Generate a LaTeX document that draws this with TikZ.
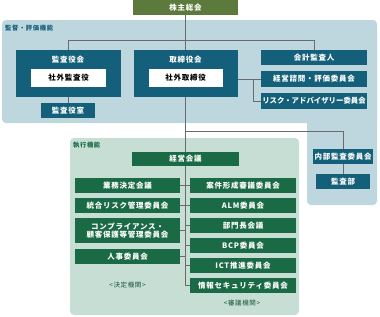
\documentclass[tikz,border=0pt]{standalone}
\usepackage{fontspec}
\setmainfont{Noto Sans CJK JP}
\newfontfamily\spacedfont{Noto Sans CJK JP}[LetterSpace=10]
\usetikzlibrary{positioning,calc}
\definecolor{BoardTeal}{HTML}{14607A}
\definecolor{ExecGreen}{HTML}{1B6A46}
\definecolor{OwnerOlive}{HTML}{5B7A3B}
\definecolor{SuperBlue}{HTML}{BED6DD}
\definecolor{ExecPale}{HTML}{C7DED5}
\definecolor{LineGray}{HTML}{6B6B6B}
\tikzset{
  boxtext/.style={text=white, font=\spacedfont\fontsize{7.5}{9}\selectfont\bfseries, align=center, inner sep=1pt},
  olivebox/.style={boxtext, fill=OwnerOlive, minimum height=15pt},
  tealbox/.style={boxtext, fill=BoardTeal, minimum height=15pt, minimum width=106pt},
  bigteal/.style={fill=BoardTeal, minimum height=47pt, minimum width=105pt, inner sep=0pt},
  whitebox/.style={fill=white, text=black, font=\spacedfont\fontsize{7.5}{9}\selectfont\bfseries, minimum height=18pt, minimum width=75pt, inner sep=1pt},
  leftbox/.style={boxtext, fill=ExecGreen, minimum height=15pt, minimum width=105pt},
  rightbox/.style={boxtext, fill=ExecGreen, minimum height=15pt, minimum width=106pt},
  paneltext/.style={font=\spacedfont\fontsize{6.3}{7}\selectfont\bfseries, inner sep=0pt},
  grouptext/.style={font=\spacedfont\fontsize{6.5}{7}\selectfont, text=ExecGreen!80!black, inner sep=0pt},
  link/.style={draw=LineGray, line width=0.8pt}
}
\begin{document}
\begin{tikzpicture}[x=1pt,y=-1pt]
\useasboundingbox (0,0) rectangle (380,316);
\fill[SuperBlue, rounded corners=4pt] (2,20) rectangle (377,123);
\fill[SuperBlue, rounded corners=4pt] (307,30) rectangle (377,205);
\fill[ExecPale, rounded corners=4pt] (70,138) rectangle (299,315);
\node[paneltext, text=BoardTeal, anchor=west] (supervise) at (5,28) {監督・評価機能};
\node[paneltext, text=ExecGreen, anchor=west] (execute) at (73,145) {執行機能};

\node[olivebox, minimum width=105pt] (meeting) at (185.5,7.5) {株主総会};

\node[bigteal] (auditboard) at (68,73.5) {};
\node[boxtext] (audittitle) at ($(auditboard.north)+(0,10)$) {監査役会};
\node[whitebox] (outsideaud) at (68.5,78) {社外監査役};
\node[tealbox, minimum width=54pt] (auditoffice) at (68,110.5) {監査役室};

\node[bigteal, minimum width=104pt] (board) at (185.5,73.5) {};
\node[boxtext] (boardtitle) at ($(board.north)+(0,10)$) {取締役会};
\node[whitebox, minimum width=74pt] (outsidedir) at (185.5,78) {社外取締役};

\node[tealbox] (accountant) at (314,57.5) {会計監査人};
\node[tealbox, minimum height=16pt] (advisory) at (314,79) {経営諮問・評価委員会};
\node[tealbox, minimum height=16pt, font=\fontsize{7.4}{9}\selectfont\bfseries] (riskadv) at (314,101) {リスク・アドバイザリー委員会};

\node[tealbox, minimum width=60pt] (internal) at (343,156.5) {内部監査委員会};
\node[tealbox, minimum width=54pt] (auditdept) at (343,181.5) {監査部};

\node[rightbox, minimum width=107pt, minimum height=14pt] (mgmt) at (185.5,159) {経営会議};

\node[leftbox] (business) at (127.5,185.5) {業務決定会議};
\node[leftbox] (risk) at (127.5,205.5) {統合リスク管理委員会};
\node[leftbox, minimum height=25pt, font=\spacedfont\fontsize{7.5}{8.5}\selectfont\bfseries] (compliance) at (127.5,230.5) {コンプライアンス・\\顧客保護等管理委員会};
\node[leftbox] (personnel) at (127.5,256.5) {人事委員会};
\node[grouptext] (decide) at (127.5,285) {<決定機関>};

\node[rightbox] (project) at (243,185.5) {案件形成審議委員会};
\node[rightbox] (alm) at (243,205.5) {ALM委員会};
\node[rightbox] (divheads) at (243,225.5) {部門長会議};
\node[rightbox] (bcp) at (243,245.5) {BCP委員会};
\node[rightbox] (ict) at (243,265.5) {ICT推進委員会};
\node[rightbox] (infosec) at (243,285.5) {情報セキュリティ委員会};
\node[grouptext] (deliberate) at (242,303) {<審議機関>};

\coordinate (topbar) at (0,40);
\coordinate (spinebot) at (185.5,285.5);
\coordinate (internaltap) at (185.5,131);
\coordinate (bracket) at (253,0);

\draw[link] (meeting.south) -- (board.north);
\draw[link] (board.south) -- (mgmt.north);
\draw[link] (mgmt.south) -- (spinebot);
\draw[link] (auditboard.north) |- (topbar -| accountant.north) -- (accountant.north);
\draw[link] (auditboard.south) -- (auditoffice.north);
\draw[link] (advisory.west -| board.east) -- (advisory.west);
\draw[link] (advisory.west -| bracket) |- (riskadv.west);
\draw[link] (internaltap) -| (internal.north);
\draw[link] (internal.south) -- (auditdept.north);
\foreach \n in {business,risk,compliance,personnel}
  \draw[link] (\n.east) -- (\n.east -| spinebot);
\foreach \n in {project,alm,divheads,bcp,ict,infosec}
  \draw[link] (\n.west -| spinebot) -- (\n.west);
\end{tikzpicture}
\end{document}
